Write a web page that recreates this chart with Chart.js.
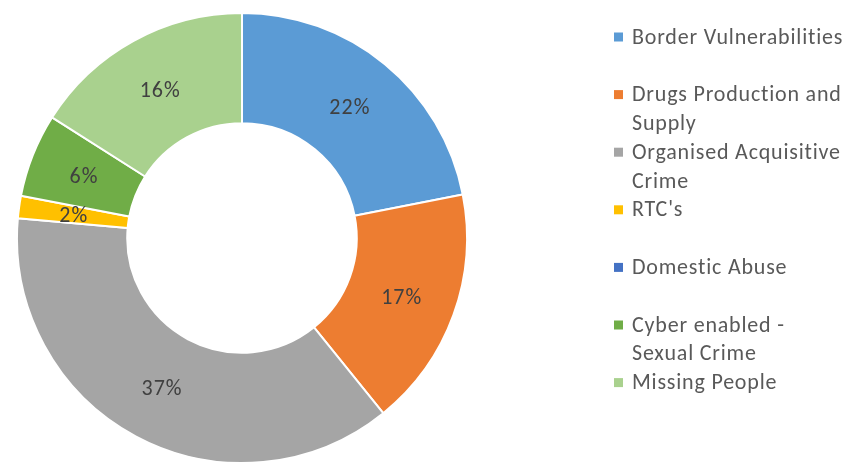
<!DOCTYPE html>
<html>
<head>
<meta charset="utf-8">
<script src="https://cdn.jsdelivr.net/npm/chart.js@4.4.0/dist/chart.umd.min.js"></script>
<style>
    html, body { margin: 0; padding: 0; background: #fff; }
    #wrap { width: 852px; height: 469px; }
</style>
</head>
<body>
<div id="wrap"><canvas id="crimeChart"></canvas></div>
<script>
// categories (line breaks as in the original legend)
const categories = [
    ['Border Vulnerabilities'],
    ['Drugs Production and', 'Supply'],
    ['Organised Acquisitive', 'Crime'],
    ["RTC's"],
    ['Domestic Abuse'],
    ['Cyber enabled -', 'Sexual Crime'],
    ['Missing People']
];
// share of total
const shares = [21.9, 17.3, 37.2, 1.6, 0, 6.0, 16.0];
const sliceColours = ['#5B9BD5', '#ED7D31', '#A5A5A5', '#FFC000', '#4472C4', '#70AD47', '#A9D18E'];

const fontFamily = 'Carlito, Calibri, Lato, sans-serif';

// percentage text in the middle of each ring segment
const sliceLabels = {
    id: 'sliceLabels',
    afterDatasetsDraw(chart) {
        const ctx = chart.ctx;
        const meta = chart.getDatasetMeta(0);
        const values = chart.data.datasets[0].data;
        ctx.save();
        ctx.font = '22px ' + fontFamily;
        ctx.letterSpacing = '1px';
        ctx.fillStyle = '#404040';
        ctx.textAlign = 'center';
        ctx.textBaseline = 'middle';
        meta.data.forEach((arc, i) => {
            if (!values[i]) return;
            const p = arc.getCenterPoint();
            ctx.fillText(Math.round(values[i]) + '%', p.x, p.y + 2);
        });
        ctx.restore();
    }
};

// legend on the right, each entry gets two text lines like Excel does
const sideLegend = {
    id: 'sideLegend',
    afterDraw(chart) {
        const ctx = chart.ctx;
        const labels = chart.data.labels;
        const colours = chart.data.datasets[0].backgroundColor;
        const boxX = 614, textX = 632, firstY = 37, lineH = 28.8;
        ctx.save();
        ctx.font = '22px ' + fontFamily;
        ctx.letterSpacing = '0.8px';
        ctx.textBaseline = 'middle';
        labels.forEach((lines, i) => {
            const y = firstY + i * lineH * 2;
            ctx.fillStyle = colours[i];
            ctx.fillRect(boxX, y - 4.5, 9, 9);
            ctx.fillStyle = '#595959';
            lines.forEach((line, j) => ctx.fillText(line, textX, y + 1 + j * lineH));
        });
        ctx.restore();
    }
};

const ctx = document.getElementById('crimeChart').getContext('2d');
const crimeChart = new Chart(ctx, {
    type: 'doughnut',
    data: {
        labels: categories,
        datasets: [{
            data: shares,
            backgroundColor: sliceColours,
            borderColor: '#ffffff',
            borderWidth: 2
        }]
    },
    options: {
        responsive: true,
        maintainAspectRatio: false,
        animation: false,
        cutout: '51%',
        layout: {
            padding: { left: 16, right: 384, top: 12, bottom: 5 }
        },
        plugins: {
            legend: { display: false },
            tooltip: { enabled: false }
        }
    },
    plugins: [sliceLabels, sideLegend]
});
</script>
</body>
</html>
